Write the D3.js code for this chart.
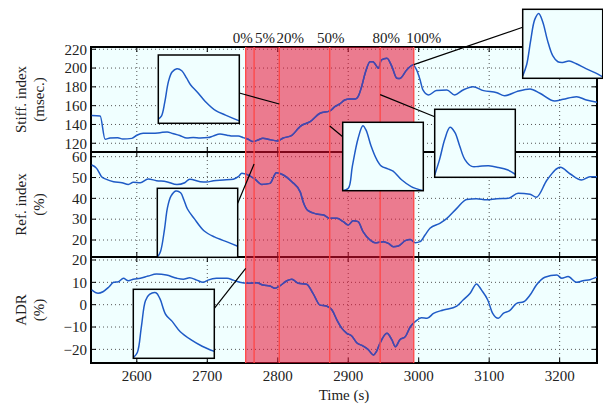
<!DOCTYPE html>
<html>
<head>
<meta charset="utf-8">
<script src="https://cdn.jsdelivr.net/npm/d3@7"></script>
<style>
  body { margin: 0; background: #fff; }
  svg { display: block; }
  text { font-family: "Liberation Serif", "DejaVu Serif", serif; fill: #222; }
</style>
</head>
<body>
<svg id="chart" width="603" height="408"></svg>
<script>
// ---- data ----
// [time (s), value]
const stiffIndex = [
  [2536,149.4],[2548,149],[2555,124.3],[2562,125.5],[2573,125.8],[2580,124.6],[2593,125.2],[2600,128.5],
  [2609,130.6],[2623,130.6],[2633,131.3],[2643,132.1],[2651,130.4],[2661,128.2],[2671,125.5],[2680,126],
  [2690,125.5],[2701,126],[2708,127.6],[2718,129.8],[2728,128.6],[2736,127.6],[2744,127.6],[2751,126],
  [2758,124.3],[2765,121.8],[2772,123.5],[2779,125.3],[2786,124.3],[2800,122.5],[2807,125.3],[2820,128.5],
  [2829,135.7],[2832,138],[2846,143],[2860,151.9],[2874,154.4],[2881,158.9],[2888,161.8],[2895,166],
  [2902,167.1],[2910,167],[2914,169.6],[2919,180.2],[2924,194.5],[2931,206.8],[2935,206.8],[2943,199.8],
  [2947,208.6],[2955,210.4],[2962,201.5],[2969,189.1],[2973,188.8],[2983,198],[2992,203.3],[2997,198],
  [3002,187.3],[3006,176.7],[3014,171.4],[3025,176],[3040,176.7],[3051,171.4],[3063,176.7],[3077,180.2],
  [3092,176],[3111,173.8],[3122,170.6],[3139,174.9],[3158,177.8],[3172,173.2],[3193,165],[3205,166.8],
  [3224,169.6],[3238,166],[3254,163.6]
];
const refIndex = [
  [2536,56],[2543,54.4],[2550,50.4],[2557,49.1],[2567,48],[2579,47.5],[2588,46.7],[2595,47.7],[2605,47.5],
  [2616,49.3],[2628,48.5],[2642,48],[2657,46.6],[2668,47.5],[2675,49.2],[2690,48],[2699,47.8],[2709,48.5],
  [2723,48.8],[2737,49.2],[2744,50.4],[2749,52],[2761,50.7],[2768,49.1],[2777,46.7],[2789,47.2],[2798,52.3],
  [2808,51.2],[2820,48],[2832,43],[2836,38.4],[2843,34.1],[2855,32.5],[2865,32],[2874,30.4],[2884,30.4],
  [2893,28.8],[2900,27.2],[2907,29.3],[2914,28.8],[2921,24],[2931,20],[2938,18.7],[2950,19.2],[2957,18.4],
  [2964,16.8],[2971,17.1],[2981,19.7],[2988,20.3],[2995,18.7],[3002,19.2],[3009,22.4],[3016,25.6],[3030,28],
  [3040,30.4],[3054,35.2],[3068,39.5],[3082,39.8],[3096,39.3],[3111,39.8],[3127,40],[3141,42.4],[3158,42],
  [3167,40.5],[3182,48.8],[3201,54.9],[3215,51.7],[3231,48.8],[3243,50.4],[3254,50.4]
];
const adr = [
  [2536,6.6],[2545,5.1],[2552,5.8],[2560,7.8],[2567,10],[2574,10.3],[2581,11.8],[2588,10.7],[2595,11.4],
  [2605,11.8],[2616,12.8],[2628,13.7],[2642,13.3],[2657,11.8],[2666,11.4],[2675,12.1],[2685,11],[2694,10],
  [2701,11],[2713,11.8],[2728,11.8],[2737,11],[2746,10],[2758,9.6],[2770,9.8],[2779,8.8],[2789,8.4],
  [2796,7.3],[2803,8.4],[2813,10.7],[2820,11.4],[2829,9.6],[2841,9.1],[2850,5.1],[2860,-0.2],[2869,-0.6],
  [2877,-2.4],[2884,-6.9],[2891,-10.6],[2898,-12.8],[2905,-14],[2912,-17],[2921,-18.5],[2928,-20],
  [2936,-22.5],[2940,-21],[2945,-17.3],[2955,-12.8],[2962,-15.8],[2967,-18.8],[2973,-15.8],[2981,-14.3],
  [2988,-9.9],[2995,-7.6],[3004,-5.8],[3012,-6.1],[3021,-3.9],[3035,-2.4],[3054,-0.6],[3063,2.1],[3073,5.1],
  [3082,9.3],[3089,6.6],[3098,2.1],[3105,-3.9],[3113,-6.1],[3120,-3.9],[3129,-2.7],[3139,0.6],[3149,1.3],
  [3158,4.3],[3167,8.8],[3179,12.3],[3196,13.3],[3203,11.8],[3212,12.6],[3224,10],[3233,10.7],[3243,11.2],
  [3254,12.5]
];

const timeTicks = [2600, 2700, 2800, 2900, 3000, 3100, 3200];
const stiffTicks = [120, 140, 160, 180, 200, 220];
const refTicks = [20, 30, 40, 50, 60];
const adrTicks = [-20, -10, 0, 10, 20];

// the shaded interval and its percentage marks
const phaseStart = 2754.5, phaseEnd = 2993;
const percents = [0, 5, 20, 50, 80, 100];

// pulse shapes in the insets, normalised [x, y] in 0..1
const pulse0 = [[0,0.01],[0.05,0.085],[0.1,0.46],[0.15,0.835],[0.2,0.925],[0.28,0.95],[0.33,0.86],[0.4,0.635],[0.48,0.535],[0.58,0.385],[0.71,0.27],[0.85,0.175],[1,0.1]];
const pulse5 = [[0,0],[0.04,0.085],[0.09,0.41],[0.125,0.71],[0.17,0.885],[0.23,0.96],[0.29,0.935],[0.33,0.835],[0.375,0.7],[0.46,0.56],[0.58,0.385],[0.71,0.295],[0.875,0.22],[1,0.16]];
const pulse20 = [[0,0.06],[0.04,0.11],[0.08,0.31],[0.125,0.61],[0.17,0.75],[0.23,0.8],[0.29,0.77],[0.35,0.66],[0.4,0.56],[0.48,0.46],[0.58,0.32],[0.71,0.185],[0.83,0.12],[1,0.035]];
const pulse50 = [[0,0],[0.07,0.035],[0.12,0.36],[0.19,0.76],[0.25,0.95],[0.29,0.885],[0.35,0.66],[0.42,0.46],[0.48,0.36],[0.56,0.32],[0.625,0.285],[0.73,0.16],[0.85,0.06],[1,0]];
const pulse80 = [[0,0.035],[0.06,0.26],[0.125,0.56],[0.19,0.735],[0.25,0.66],[0.31,0.46],[0.375,0.26],[0.46,0.16],[0.54,0.16],[0.67,0.17],[0.79,0.145],[0.9,0.11],[1,0.045]];
const pulse100 = [[0,0.035],[0.05,0.2],[0.1,0.55],[0.15,0.85],[0.2,0.94],[0.25,0.82],[0.31,0.55],[0.375,0.33],[0.44,0.24],[0.5,0.23],[0.58,0.25],[0.67,0.21],[0.79,0.14],[0.94,0.06],[1,0.02]];

// ---- layout ----
const svg = d3.select('#chart');
const L = 91, R = 597;
const x = d3.scaleLinear().domain([2535, 3253]).range([L, R]);

const panels = [
  { top: 47,  bottom: 152, domain: [110.7, 222.4], ticks: stiffTicks, data: stiffIndex, label: ['Stiff. index', '(msec.)'] },
  { top: 152, bottom: 257, domain: [11.84, 62.26], ticks: refTicks,   data: refIndex,   label: ['Ref. index', '(%)'] },
  { top: 257, bottom: 363, domain: [-26.1, 21.34], ticks: adrTicks,   data: adr,        label: ['ADR', '(%)'] }
];
panels.forEach(p => { p.y = d3.scaleLinear().domain(p.domain).range([p.bottom, p.top]); });

const TOP = 47, BOTTOM = 363;
const blue = '#1f5bc6';
const pctTime = p => phaseStart + (phaseEnd - phaseStart) * p / 100;
const fmt = d3.format('');

const defs = svg.append('defs');
defs.append('clipPath').attr('id', 'plotClip')
  .append('rect').attr('x', L).attr('y', TOP).attr('width', R - L).attr('height', BOTTOM - TOP);
defs.append('clipPath').attr('id', 'shadeClip')
  .append('rect').attr('x', x(phaseStart)).attr('y', TOP)
  .attr('width', x(phaseEnd) - x(phaseStart)).attr('height', BOTTOM - TOP);

// panels: background, grid, ticks, border
panels.forEach(p => {
  const g = svg.append('g');
  g.append('rect').attr('x', L).attr('y', p.top).attr('width', R - L).attr('height', p.bottom - p.top)
    .attr('fill', '#f0ffff');

  g.selectAll('.hgrid').data(p.ticks).join('line')
    .attr('x1', L).attr('x2', R).attr('y1', d => p.y(d)).attr('y2', d => p.y(d))
    .attr('stroke', '#555').attr('stroke-width', 1).attr('stroke-dasharray', '1,3');
  g.selectAll('.vgrid').data(timeTicks).join('line')
    .attr('x1', d => x(d)).attr('x2', d => x(d)).attr('y1', p.top).attr('y2', p.bottom)
    .attr('stroke', '#555').attr('stroke-width', 1).attr('stroke-dasharray', '1,3');

  // inward tick marks
  p.ticks.forEach(t => {
    g.append('line').attr('x1', L).attr('x2', L + 5).attr('y1', p.y(t)).attr('y2', p.y(t)).attr('stroke', '#000');
    g.append('line').attr('x1', R - 5).attr('x2', R).attr('y1', p.y(t)).attr('y2', p.y(t)).attr('stroke', '#000');
  });
  timeTicks.forEach(t => {
    g.append('line').attr('x1', x(t)).attr('x2', x(t)).attr('y1', p.top).attr('y2', p.top + 5).attr('stroke', '#000');
    g.append('line').attr('x1', x(t)).attr('x2', x(t)).attr('y1', p.bottom - 5).attr('y2', p.bottom).attr('stroke', '#000');
  });

  g.append('rect').attr('x', L).attr('y', p.top).attr('width', R - L).attr('height', p.bottom - p.top)
    .attr('fill', 'none').attr('stroke', '#000').attr('stroke-width', 2);

  // y tick labels
  g.selectAll('.ylab').data(p.ticks).join('text')
    .attr('x', L - 4).attr('y', d => p.y(d)).attr('dy', '0.35em')
    .attr('text-anchor', 'end').attr('font-size', 15).text(d => fmt(d));

  // axis title (two rotated lines)
  const cy = (p.top + p.bottom) / 2;
  g.append('text').attr('transform', `translate(26,${cy}) rotate(-90)`)
    .attr('text-anchor', 'middle').attr('font-size', 15).text(p.label[0]);
  g.append('text').attr('transform', `translate(44,${cy}) rotate(-90)`)
    .attr('text-anchor', 'middle').attr('font-size', 15).text(p.label[1]);
});

// shaded phase
svg.append('rect')
  .attr('x', x(phaseStart)).attr('y', TOP)
  .attr('width', x(phaseEnd) - x(phaseStart)).attr('height', BOTTOM - TOP)
  .attr('fill', 'rgb(232,15,51)').attr('fill-opacity', 0.55);

// data lines
panels.forEach(p => {
  const line = d3.line().x(d => x(d[0])).y(d => p.y(d[1])).curve(d3.curveMonotoneX);
  svg.append('path').datum(p.data).attr('d', line)
    .attr('clip-path', 'url(#plotClip)')
    .attr('fill', 'none').attr('stroke', blue).attr('stroke-width', 1.5);
  svg.append('path').datum(p.data).attr('d', line)
    .attr('clip-path', 'url(#shadeClip)')
    .attr('fill', 'none').attr('stroke', '#4a44aa').attr('stroke-width', 1.5);
});

// percentage marks
svg.selectAll('.pline').data(percents).join('line')
  .attr('x1', d => x(pctTime(d))).attr('x2', d => x(pctTime(d)))
  .attr('y1', TOP).attr('y2', BOTTOM)
  .attr('stroke', '#ff4646').attr('stroke-width', 1.3);

const pctLabelShift = [-3, 11, 11, 1, 6, 10];
svg.selectAll('.plab').data(percents).join('text')
  .attr('x', (d, i) => x(pctTime(d)) + pctLabelShift[i]).attr('y', 43)
  .attr('text-anchor', 'middle').attr('font-size', 15).text(d => d + '%');

// time axis labels
svg.selectAll('.xlab').data(timeTicks).join('text')
  .attr('x', d => x(d)).attr('y', 381)
  .attr('text-anchor', 'middle').attr('font-size', 15).text(d => d);
svg.append('text').attr('x', (L + R) / 2).attr('y', 400)
  .attr('text-anchor', 'middle').attr('font-size', 15).text('Time (s)');

// insets: which pulse, where it points (percent mark, panel, value), where the box sits
const insets = [
  { pulse: pulse20,  pct: 20,  panel: 0, value: 161.8, box: [158.3, 55, 81, 68.3],  from: 'right', fy: 38 },
  { pulse: pulse100, pct: 100, panel: 0, value: 203.6, box: [522.7, 9.3, 80, 69],   from: 'left',  fy: 18 },
  { pulse: pulse50,  pct: 50,  panel: 0, value: 138.4, box: [342.7, 122.3, 80.6, 68.4], from: 'left', fy: 14.4 },
  { pulse: pulse80,  pct: 80,  panel: 0, value: 171.7, box: [434.7, 109.3, 80.6, 68], from: 'left', fy: 7.4 },
  { pulse: pulse5,   pct: 5,   panel: 1, value: 56.5,  box: [157.3, 188.3, 80.4, 69], from: 'right', fy: 15 },
  { pulse: pulse0,   pct: 0,   panel: 2, value: 16.3,  box: [133.3, 289.3, 81, 69],   from: 'right', fy: 19 }
];

insets.forEach(ins => {
  const [bx, by, bw, bh] = ins.box;
  const ax = x(pctTime(ins.pct)), ay = panels[ins.panel].y(ins.value);
  const sx = ins.from === 'right' ? bx + bw : bx;
  svg.append('line').attr('x1', sx).attr('y1', by + ins.fy).attr('x2', ax).attr('y2', ay)
    .attr('stroke', '#000').attr('stroke-width', 1.2);
});

insets.forEach((ins, i) => {
  const [bx, by, bw, bh] = ins.box;
  const g = svg.append('g');
  defs.append('clipPath').attr('id', 'inset' + i)
    .append('rect').attr('x', bx).attr('y', by).attr('width', bw).attr('height', bh);
  g.append('rect').attr('x', bx).attr('y', by).attr('width', bw).attr('height', bh)
    .attr('fill', '#f0ffff');
  const ix = d3.scaleLinear().domain([0, 1]).range([bx, bx + bw]);
  const iy = d3.scaleLinear().domain([0, 1]).range([by + bh, by]);
  g.append('path').datum(ins.pulse)
    .attr('d', d3.line().x(d => ix(d[0])).y(d => iy(d[1])).curve(d3.curveCatmullRom.alpha(0.5)))
    .attr('clip-path', `url(#inset${i})`)
    .attr('fill', 'none').attr('stroke', blue).attr('stroke-width', 1.5);
  g.append('rect').attr('x', bx).attr('y', by).attr('width', bw).attr('height', bh)
    .attr('fill', 'none').attr('stroke', '#000').attr('stroke-width', 1.5);
});
</script>
</body>
</html>
